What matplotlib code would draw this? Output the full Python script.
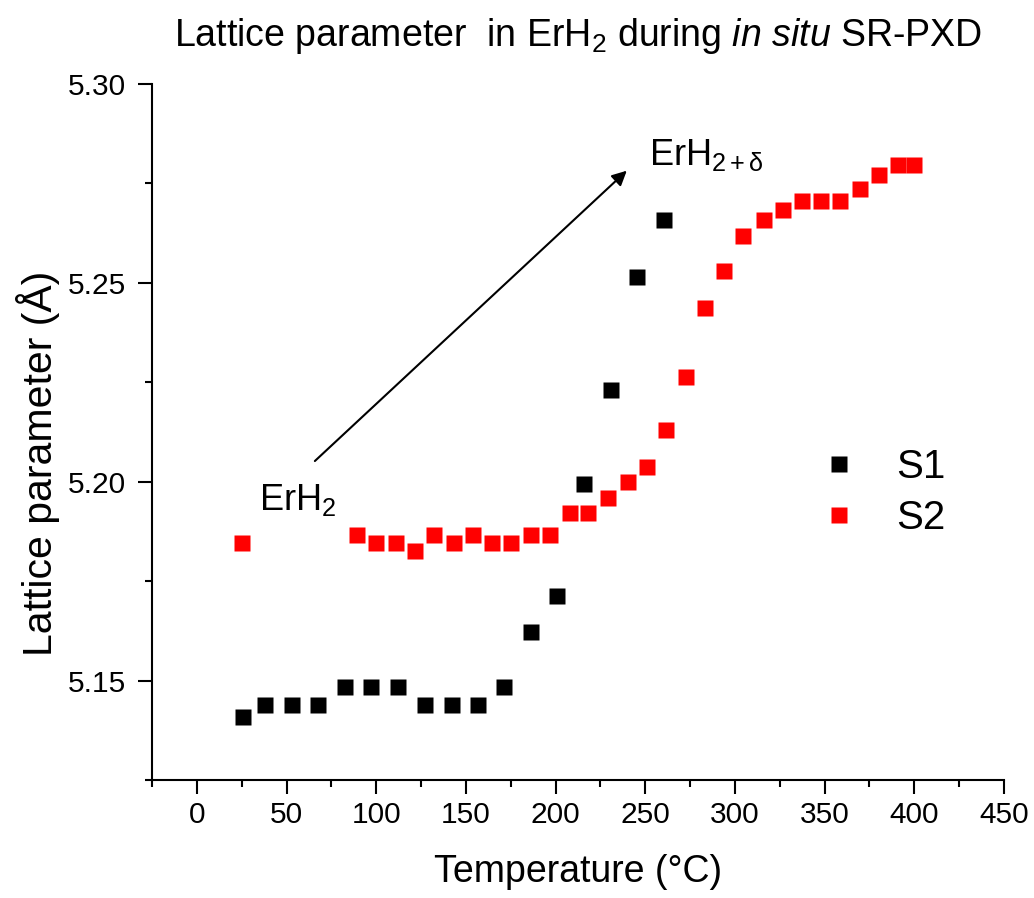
import matplotlib
matplotlib.use("Agg")
import matplotlib.pyplot as plt
from matplotlib.ticker import MultipleLocator, FormatStrFormatter

plt.rcParams['font.family'] = ['Liberation Sans', 'DejaVu Sans']
plt.rcParams['mathtext.fontset'] = 'custom'
plt.rcParams['mathtext.rm'] = 'Liberation Sans'
plt.rcParams['mathtext.it'] = 'Liberation Sans:italic'
plt.rcParams['mathtext.bf'] = 'Liberation Sans:bold'

s1_temp = [25.5, 38, 52.8, 67.6, 82.5, 97, 112.2, 127, 142, 156.5, 171.3,
           186.2, 201, 215.9, 230.8, 245.4, 260.5]
s1_lat = [5.1409, 5.1439, 5.1439, 5.1439, 5.1485, 5.1485, 5.1485, 5.1439,
          5.1439, 5.1439, 5.1485, 5.1622, 5.1713, 5.1995, 5.2230, 5.2515, 5.2658]

s2_temp = [24.9, 89.4, 100, 110.8, 121.5, 132.3, 143.1, 153.7, 164.6, 175.4,
           186.2, 196.9, 207.9, 218.3, 229.3, 240.2, 250.7, 261.6, 272.6,
           283.2, 294, 304.7, 316, 326.6, 337.2, 348, 358.4, 369.6, 380.1,
           391.1, 400]
s2_lat = [5.1846, 5.1865, 5.1846, 5.1846, 5.1827, 5.1865, 5.1846, 5.1865,
          5.1846, 5.1846, 5.1865, 5.1865, 5.1921, 5.1921, 5.1959, 5.1999,
          5.2037, 5.2131, 5.2264, 5.2438, 5.2529, 5.2618, 5.2659, 5.2683,
          5.2707, 5.2707, 5.2707, 5.2735, 5.2772, 5.2796, 5.2796]

fig = plt.figure(figsize=(10.34, 8.98), dpi=100)
ax = fig.add_axes([152/1034, 1-780/898, (1004-152)/1034, (780-84)/898])

ax.plot(s1_temp, s1_lat, ls='none', marker='s', ms=11, color='black',
        mec='none', label='S1')
ax.plot(s2_temp, s2_lat, ls='none', marker='s', ms=11, color='#ff0000',
        mec='none', label='S2')

ax.set_xlim(-25, 450)
ax.set_ylim(5.125, 5.30)
ax.xaxis.set_major_locator(MultipleLocator(50))
ax.xaxis.set_minor_locator(MultipleLocator(25))
ax.yaxis.set_major_locator(MultipleLocator(0.05))
ax.yaxis.set_minor_locator(MultipleLocator(0.025))
ax.yaxis.set_major_formatter(FormatStrFormatter('%.2f'))

for s in ['top', 'right']:
    ax.spines[s].set_visible(False)
for s in ['left', 'bottom']:
    ax.spines[s].set_linewidth(1.5)

ax.tick_params(which='major', length=10, width=1.5, labelsize=21.5)
ax.tick_params(which='minor', length=5, width=1.5)
ax.tick_params(axis='x', which='major', pad=5)
ax.tick_params(axis='y', which='major', pad=9)

ax.set_xlabel('Temperature (°C)', fontsize=27, labelpad=18)
ax.set_ylabel('Lattice parameter (Å)', fontsize=29.5)
ax.yaxis.set_label_coords(-0.108, 0.455)
ax.set_title(r'Lattice parameter  in ErH$_2$ during $\it{in\ situ}$ SR-PXD',
             fontsize=27, pad=27)

ax.annotate('', xy=(239.7, 5.2782), xytext=(65.8, 5.2052),
            arrowprops=dict(arrowstyle='-|>', color='black', lw=1.5,
                            mutation_scale=22, shrinkA=0, shrinkB=0))
ax.text(34.6, 5.1928, r'ErH$_2$', fontsize=26, ha='left', va='baseline')
ax.text(252, 5.2797, r'ErH$_{\mathrm{2+δ}}$', fontsize=26, ha='left',
        va='baseline')

leg = ax.legend(loc='upper left', bbox_to_anchor=(0.728, 0.529), frameon=False,
                fontsize=29, handletextpad=0.67, labelspacing=0.32,
                handlelength=1.5, markerscale=1.0)

fig.savefig('out.png', dpi=100)
